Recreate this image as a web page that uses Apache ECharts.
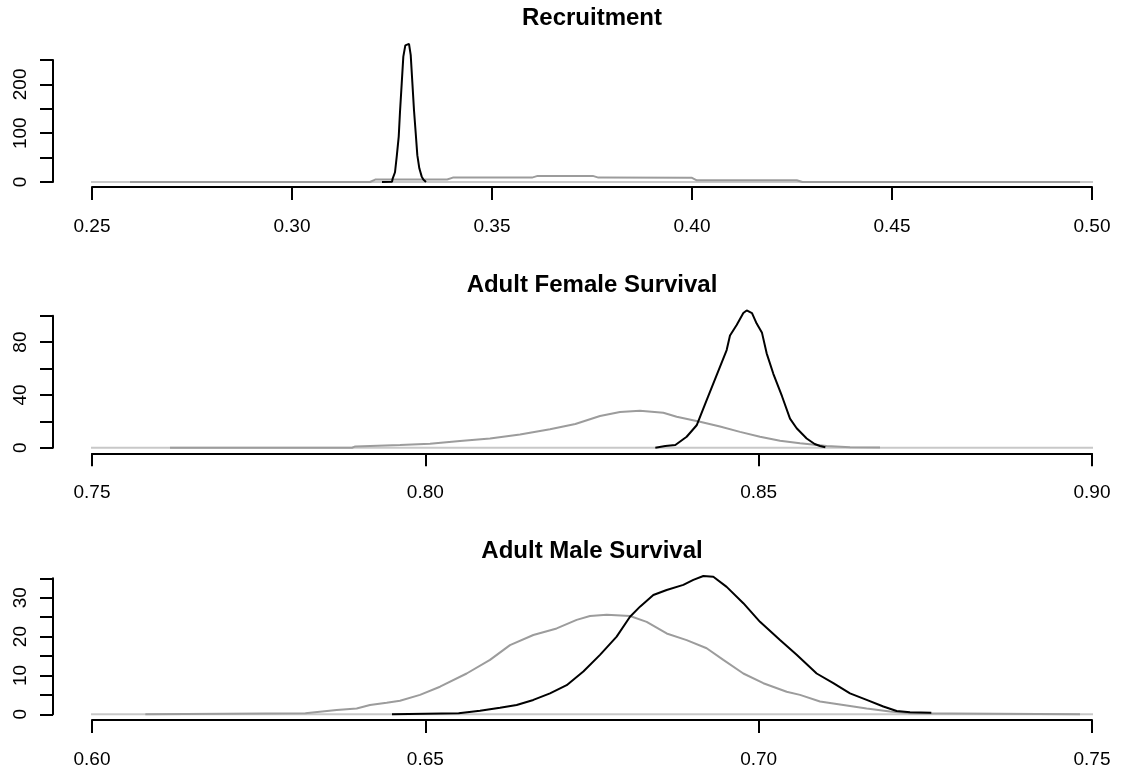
<!DOCTYPE html>
<html>
<head>
<meta charset="utf-8">
<script src="https://cdn.jsdelivr.net/npm/echarts@6/dist/echarts.min.js"></script>
<style>html,body{margin:0;padding:0;background:#fff}#c{width:1130px;height:772px}</style>
</head>
<body>
<div id="c"></div>
<script>
// ---------- data ----------
const titles = ['Recruitment', 'Adult Female Survival', 'Adult Male Survival'];

const xlim1 = [0.25, 0.50];
const xlim2 = [0.75, 0.90];
const xlim3 = [0.60, 0.75];

const ymax1 = 250, ystep1 = 50, yLabels1 = [0, 100, 200];
const ymax2 = 100, ystep2 = 20, yLabels2 = [0, 40, 80];
const ymax3 = 35,  ystep3 = 5,  yLabels3 = [0, 10, 20, 30];

// Recruitment
const recBlackX = [0.3225, 0.3250, 0.32517, 0.32575, 0.32618, 0.32668, 0.3270, 0.32743, 0.32783, 0.32833, 0.32875, 0.32925, 0.32968, 0.33008, 0.3305, 0.33093, 0.33133, 0.33183, 0.33243, 0.33283, 0.3335];
const recBlackY = [0, 0.5, 7, 20, 52, 93, 144, 202, 257, 280, 283, 283, 260, 205, 147, 100, 55, 28, 11, 5, 0];
const recGrayX = [0.2595, 0.3195, 0.3208, 0.3388, 0.3402, 0.3600, 0.3614, 0.3752, 0.3766, 0.4000, 0.4012, 0.4262, 0.4276, 0.4970];
const recGrayY = [0, 0, 5, 5, 9, 9, 12.5, 12.5, 9, 8.5, 3.5, 3.5, 0, 0];

// Adult Female Survival
const femBlackX = [0.8345, 0.8360, 0.8375, 0.8392, 0.8407, 0.8422, 0.8437, 0.8452, 0.8457, 0.8467, 0.8477, 0.8482, 0.8490, 0.8497, 0.8505, 0.8512, 0.8522, 0.8535, 0.8547, 0.8557, 0.8572, 0.8584, 0.8592, 0.8600];
const femBlackY = [0, 1.3, 2, 8.3, 17, 36, 55, 74, 85, 93, 102, 104, 102, 94, 87, 71.5, 56, 39, 22, 14.7, 7, 2.8, 1.3, 0.3];
const femGrayX = [0.7617, 0.7890, 0.7895, 0.7962, 0.8007, 0.8052, 0.8097, 0.8142, 0.8187, 0.8225, 0.8262, 0.8292, 0.8322, 0.8357, 0.8377, 0.8412, 0.8442, 0.8472, 0.8502, 0.8532, 0.8562, 0.8602, 0.8637, 0.8682];
const femGrayY = [0, 0, 1, 2, 3, 5, 7, 10, 14, 18, 24, 27, 28, 26.5, 23.5, 19.7, 16, 12, 8.3, 5.3, 3.3, 1.3, 0.3, 0.2];

// Adult Male Survival
const malBlackX = [0.6450, 0.6550, 0.6582, 0.6612, 0.6637, 0.6662, 0.6687, 0.6712, 0.6737, 0.6762, 0.6787, 0.6807, 0.6822, 0.6842, 0.6862, 0.6887, 0.6902, 0.6917, 0.6932, 0.6952, 0.6977, 0.7002, 0.7032, 0.7057, 0.7087, 0.7112, 0.7137, 0.7162, 0.7187, 0.7207, 0.7227, 0.7259];
const malBlackY = [0, 0.26, 0.9, 1.7, 2.4, 3.7, 5.4, 7.5, 11, 15.3, 20, 25.1, 27.7, 30.7, 32, 33.3, 34.6, 35.6, 35.4, 32.8, 28.6, 23.8, 19.1, 15.3, 10.5, 8, 5.4, 3.7, 2, 0.85, 0.5, 0.4];
const malGrayX = [0.6080, 0.6320, 0.6367, 0.6397, 0.6417, 0.6442, 0.6462, 0.6492, 0.6522, 0.6562, 0.6597, 0.6627, 0.6662, 0.6697, 0.6727, 0.6747, 0.6772, 0.6807, 0.6832, 0.6862, 0.6892, 0.6922, 0.6947, 0.6977, 0.7007, 0.7042, 0.7062, 0.7092, 0.7127, 0.7162, 0.7197, 0.7227, 0.7482];
const malGrayY = [0, 0.26, 1.1, 1.5, 2.4, 3, 3.5, 5, 7.1, 10.5, 14, 17.8, 20.4, 22.1, 24.3, 25.3, 25.6, 25.3, 23.8, 20.8, 19.1, 17, 14, 10.5, 8, 5.8, 5, 3.3, 2.4, 1.5, 0.7, 0.26, 0];

// ---------- build ----------
const FONT = '"Liberation Sans", Arial, Helvetica, sans-serif';
const zip = (xs, ys) => xs.map((x, i) => [x, ys[i]]);

const panels = [
  {xlim: xlim1, ymax: ymax1, ystep: ystep1, ylab: yLabels1, bx: recBlackX, by: recBlackY, gx: recGrayX, gy: recGrayY, top: 60, height: 122, xoff: 5, titleY: 18.5},
  {xlim: xlim2, ymax: ymax2, ystep: ystep2, ylab: yLabels2, bx: femBlackX, by: femBlackY, gx: femGrayX, gy: femGrayY, top: 315.7, height: 132, xoff: 5.6, titleY: 285},
  {xlim: xlim3, ymax: ymax3, ystep: ystep3, ylab: yLabels3, bx: malBlackX, by: malBlackY, gx: malGrayX, gy: malGrayY, top: 578.3, height: 136, xoff: 5.7, titleY: 551.7}
];

const grid = [], xAxis = [], yAxis = [], series = [], graphic = [];
panels.forEach((p, i) => {
  grid.push({left: 92, width: 1000, top: p.top, height: p.height, containLabel: false});
  xAxis.push({
    type: 'value', gridIndex: i, min: p.xlim[0], max: p.xlim[1], interval: 0.05,
    offset: p.xoff, splitLine: {show: false},
    axisLine: {show: true, onZero: false, lineStyle: {color: '#000', width: 2}},
    axisTick: {show: true, inside: false, length: 13, lineStyle: {color: '#000', width: 2}},
    axisLabel: {show: true, margin: 30, fontSize: 19, color: '#000', fontFamily: FONT,
      formatter: v => v.toFixed(2)}
  });
  yAxis.push({
    type: 'value', gridIndex: i, min: 0, max: p.ymax, interval: p.ystep,
    offset: 39, splitLine: {show: false},
    axisLine: {show: true, onZero: false, lineStyle: {color: '#000', width: 2}},
    axisTick: {show: true, inside: false, length: 13, lineStyle: {color: '#000', width: 2}},
    axisLabel: {show: true, rotate: 90, margin: 23, fontSize: 19, color: '#000', fontFamily: FONT,
      formatter: v => (p.ylab.indexOf(Math.round(v)) >= 0 ? String(Math.round(v)) : '')}
  });
  const r = p.xlim[1] - p.xlim[0];
  series.push({
    type: 'line', xAxisIndex: i, yAxisIndex: i, clip: false, silent: true, showSymbol: false, animation: false,
    data: [[p.xlim[0] - 0.04 * r, 0], [p.xlim[1] + 0.04 * r, 0]],
    lineStyle: {color: '#c8c8c8', width: 2}, z: 1
  });
  series.push({
    type: 'line', xAxisIndex: i, yAxisIndex: i, clip: false, silent: true, showSymbol: false, animation: false,
    data: zip(p.gx, p.gy), lineStyle: {color: '#9c9c9c', width: 2}, z: 2
  });
  series.push({
    type: 'line', xAxisIndex: i, yAxisIndex: i, clip: false, silent: true, showSymbol: false, animation: false,
    data: zip(p.bx, p.by), lineStyle: {color: '#000', width: 2}, z: 3
  });
  graphic.push({
    type: 'text', x: 592, y: p.titleY,
    style: {text: titles[i], font: 'bold 24px ' + FONT, fill: '#000', align: 'center', verticalAlign: 'middle'}
  });
});

const chart = echarts.init(document.getElementById('c'), null, {renderer: 'canvas'});
chart.setOption({backgroundColor: '#fff', animation: false, grid, xAxis, yAxis, series, graphic});
</script>
</body>
</html>
